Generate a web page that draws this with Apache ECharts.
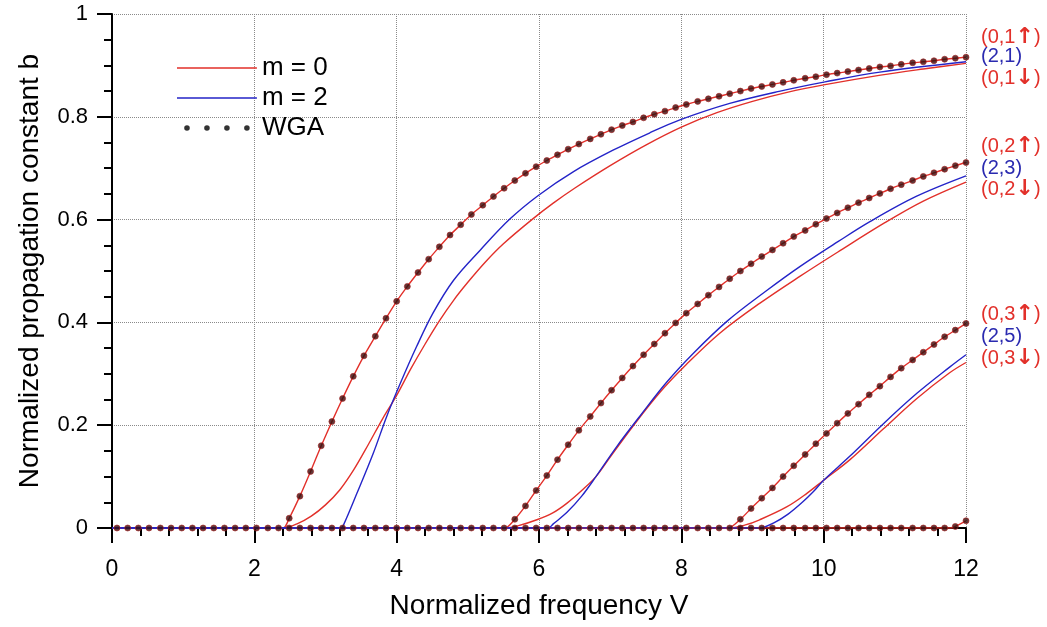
<!DOCTYPE html>
<html>
<head>
<meta charset="utf-8">
<script src="https://cdn.jsdelivr.net/npm/echarts@6/dist/echarts.min.js"></script>
<style>
html,body{margin:0;padding:0;background:#fff;}
#chart{width:1047px;height:627px;}
</style>
</head>
<body>
<div id="chart"></div>
<script>
// ---------- data ----------
// V positions of the WGA markers
const wgaV = [0.07,0.22,0.37,0.52,0.68,0.83,0.98,1.13,1.28,1.43,1.58,1.73,1.88,2.03,2.19,2.34,
  2.49,2.64,2.79,2.94,3.09,3.24,3.39,3.54,3.70,3.85,4.00,4.15,4.30,4.45,4.60,4.75,4.90,5.05,5.21,5.36,
  5.51,5.66,5.81,5.96,6.11,6.26,6.41,6.56,6.72,6.87,7.02,7.17,7.32,7.47,7.62,7.77,7.92,8.07,8.23,8.38,
  8.53,8.68,8.83,8.98,9.13,9.28,9.43,9.58,9.74,9.89,10.04,10.19,10.34,10.49,10.64,10.79,10.94,11.09,11.25,11.40,
  11.55,11.70,11.85,12.00];
// WGA cutoffs (b = 0)
const cutoffWGA = [2.405, 5.520, 8.654, 11.792];
// WGA b-values at the last N marker positions of each family
const wga1 = [0.019,0.062,0.110,0.160,0.207,0.252,0.295,0.335,0.373,0.408,
  0.441,0.470,0.497,0.523,0.547,0.570,0.590,0.610,0.628,0.645,
  0.661,0.676,0.690,0.703,0.715,0.726,0.737,0.747,0.757,0.766,
  0.775,0.783,0.790,0.798,0.805,0.811,0.818,0.824,0.830,0.835,
  0.840,0.845,0.850,0.855,0.859,0.863,0.867,0.871,0.875,0.878,
  0.882,0.885,0.888,0.891,0.894,0.897,0.899,0.902,0.905,0.907,
  0.909,0.912,0.914,0.916];
const wga2 = [0.017,0.043,0.073,0.102,0.133,0.162,0.190,0.217,0.243,0.268,
  0.292,0.315,0.337,0.358,0.379,0.399,0.418,0.436,0.453,0.469,
  0.485,0.500,0.514,0.528,0.541,0.554,0.567,0.579,0.591,0.602,
  0.613,0.623,0.633,0.642,0.651,0.660,0.668,0.676,0.684,0.691,
  0.698,0.705,0.711];
const wga3 = [0.017,0.038,0.058,0.078,0.100,0.121,0.143,0.164,0.184,0.204,0.223,
  0.241,0.259,0.276,0.294,0.311,0.327,0.342,0.357,0.372,0.385,0.398];
const wga4 = [0.003,0.014];

// m = 0 lower branches [V, b]
const m0Down1 = [[0,0],[2.405,0],[2.6,0.008],[2.8,0.023],[3.0,0.045],[3.2,0.074],[3.4,0.114],[3.6,0.162],[3.8,0.212],[4.0,0.258],[4.2,0.310],[4.4,0.358],[4.6,0.403],[4.8,0.443],[5.0,0.478],[5.25,0.518],[5.5,0.553],[5.9,0.600],[6.2,0.632],[6.5,0.661],[7.0,0.705],[7.5,0.745],[8.0,0.780],[8.5,0.808],[9.0,0.830],[9.5,0.848],[10.0,0.862],[10.8,0.881],[11.4,0.893],[12.0,0.904]];
const m0Down2 = [[0,0],[5.52,0],[5.7,0.004],[5.97,0.016],[6.2,0.030],[6.39,0.048],[6.6,0.073],[6.8,0.100],[7.0,0.138],[7.32,0.198],[7.70,0.264],[8.07,0.318],[8.54,0.379],[9.10,0.437],[9.67,0.490],[10.2,0.537],[10.86,0.594],[11.4,0.636],[12.0,0.673]];
const m0Down3 = [[0,0],[8.654,0],[8.9,0.006],[9.10,0.016],[9.48,0.041],[9.76,0.067],[10.0,0.093],[10.37,0.133],[10.84,0.193],[11.31,0.252],[11.77,0.302],[12.0,0.322]];
const m0Down4 = [[0,0],[11.792,0],[11.85,0.003],[12.0,0.014]];
// m = 2 branches [V, b]
const m2n1 = [[0,0],[3.22,0],[3.26,0.008],[3.44,0.067],[3.67,0.145],[3.86,0.217],[4.05,0.281],[4.28,0.353],[4.51,0.418],[4.80,0.482],[5.17,0.540],[5.59,0.601],[5.99,0.647],[6.48,0.693],[7.04,0.735],[7.56,0.769],[7.98,0.794],[8.68,0.826],[9.39,0.850],[10.02,0.868],[10.79,0.887],[12.0,0.907]];
const m2n3 = [[0,0],[6.13,0],[6.2,0.008],[6.39,0.030],[6.6,0.062],[6.8,0.100],[7.09,0.158],[7.42,0.218],[7.79,0.283],[8.17,0.340],[8.64,0.402],[9.2,0.462],[9.67,0.509],[10.2,0.557],[10.65,0.596],[11.3,0.645],[12.0,0.685]];
const m2n5 = [[0,0],[9.1,0],[9.3,0.010],[9.5,0.027],[9.7,0.050],[9.85,0.070],[10.0,0.093],[10.37,0.140],[10.84,0.203],[11.31,0.262],[11.77,0.313],[12.0,0.337]];

const xTicks = {min:0, max:12, interval:2};
const yTicks = {min:0, max:1, interval:0.2};

// ---------- build ----------
const RED = '#e2302a', BLUE = '#2424c8', FONT = 'Liberation Sans, Arial, sans-serif';
const wgaFamilies = [wga1, wga2, wga3, wga4];

function upperCurve(i){
  const vals = wgaFamilies[i];
  const vs = wgaV.slice(wgaV.length - vals.length);
  return [[0,0],[cutoffWGA[i],0]].concat(vs.map((v,k)=>[v, vals[k]]));
}
const wgaDots = [];
wgaFamilies.forEach(vals => {
  const vs = wgaV.slice(wgaV.length - vals.length);
  vs.forEach((v,k)=>wgaDots.push([v, vals[k]]));
});
wgaV.forEach(v => { if (v < cutoffWGA[3]) wgaDots.push([v, 0]); });

function lineSeries(name, data, color, smooth){
  return {name, type:'line', data, symbol:'none', showSymbol:false, smooth: smooth,
    lineStyle:{color, width:1.4}, itemStyle:{color}, z:2, animation:false};
}
const series = [];
[m0Down1, m0Down2, m0Down3, m0Down4].forEach(d => series.push(lineSeries('m = 0', d, RED, 0.35)));
[0,1,2].forEach(i => series.push(lineSeries('m = 0', upperCurve(i), RED, 0.25)));
[m2n1, m2n3, m2n5].forEach(d => series.push(lineSeries('m = 2', d, BLUE, 0.35)));
series.push({name:'WGA', type:'scatter', data: wgaDots, symbol:'circle', symbolSize:6,
  itemStyle:{color:'#360a0a', borderColor:'#a82020', borderWidth:0.8}, z:5, animation:false});

const corners = 'M0,0h0.01v0.01h-0.01Z M80,8h0.01v0.01h-0.01Z ';
const lineIcon = 'path://' + corners + 'M0,3.3H80V4.7H0Z';
const dotsIcon = 'path://' + corners +
  [10,30,50,70].map(c => `M${c-2.8},4a2.8,2.8 0 1,0 5.6,0a2.8,2.8 0 1,0 -5.6,0Z`).join(' ');

function ann(text, y, color){
  return {type:'text', left:981, top:y-11, z:10,
    style:{text, fill:color, fontSize:20, fontFamily:FONT,
      rich:{a:{fontSize:22, fontWeight:'bold', fill:color, fontFamily:'DejaVu Sans'}}}};
}

const chart = echarts.init(document.getElementById('chart'), null, {renderer:'canvas'});
chart.setOption({
  animation:false,
  backgroundColor:'#fff',
  grid:{left:112, right:81, top:14, bottom:99},
  legend:{
    left:172, top:50, orient:'vertical', itemGap:4, itemWidth:80, itemHeight:8,
    textStyle:{fontSize:26, color:'#000', fontFamily:FONT},
    data:[{name:'m = 0', icon: lineIcon, itemStyle:{color:RED, borderWidth:0}},
          {name:'m = 2', icon: lineIcon, itemStyle:{color:BLUE, borderWidth:0}},
          {name:'WGA', icon: dotsIcon, itemStyle:{color:'#000', borderWidth:0}}],
    selectedMode:false
  },
  xAxis:{type:'value', min:xTicks.min, max:xTicks.max, interval:xTicks.interval,
    name:'Normalized frequency V', nameLocation:'middle', nameGap:64,
    nameTextStyle:{fontSize:28, color:'#000', fontFamily:FONT},
    axisLine:{onZero:false, lineStyle:{color:'#000', width:2}},
    axisTick:{length:15, lineStyle:{color:'#000', width:2}},
    minorTick:{show:true, splitNumber:5, length:8, lineStyle:{color:'#000', width:2}},
    axisLabel:{fontSize:23, color:'#000', margin:30, fontFamily:FONT},
    splitLine:{show:true, lineStyle:{type:'dotted', color:'#8a8a8a', width:1}}},
  yAxis:{type:'value', min:yTicks.min, max:yTicks.max, interval:yTicks.interval,
    name:'Normalized propagation constant b', nameLocation:'middle', nameGap:68,
    nameTextStyle:{fontSize:28, color:'#000', fontFamily:FONT},
    axisLine:{onZero:false, lineStyle:{color:'#000', width:2}},
    axisTick:{length:15, lineStyle:{color:'#000', width:2}},
    minorTick:{show:true, splitNumber:4, length:8, lineStyle:{color:'#000', width:2}},
    axisLabel:{fontSize:22, color:'#000', margin:24, fontFamily:FONT},
    splitLine:{show:true, lineStyle:{type:'dotted', color:'#8a8a8a', width:1}}},
  graphic:[
    ann('(0,1{a|↑})', 37, RED), ann('(2,1)', 57, '#2a2ab0'), ann('(0,1{a|↓})', 78, RED),
    ann('(0,2{a|↑})', 146, RED), ann('(2,3)', 169, '#2a2ab0'), ann('(0,2{a|↓})', 189, RED),
    ann('(0,3{a|↑})', 314, RED), ann('(2,5)', 337, '#2a2ab0'), ann('(0,3{a|↓})', 358, RED)
  ],
  series
});
</script>
</body>
</html>
